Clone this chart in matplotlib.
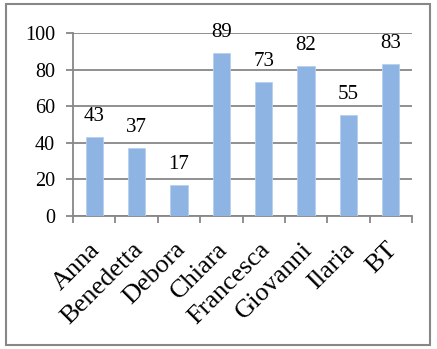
import matplotlib
matplotlib.use("Agg")
import matplotlib.pyplot as plt
import matplotlib.transforms as mtransforms
from matplotlib.patches import Rectangle

names = ["Anna", "Benedetta", "Debora", "Chiara", "Francesca", "Giovanni", "Ilaria", "BT"]
values = [43, 37, 17, 89, 73, 82, 55, 83]
yticks = [0, 20, 40, 60, 80, 100]

plt.rcParams['font.family'] = ['Liberation Serif', 'DejaVu Serif']

W, H = 437, 349
fig = plt.figure(figsize=(W/100, H/100), dpi=100)
ax = fig.add_axes([73/W, 1-216/H, (412-73)/W, (216-33)/H])

x = list(range(len(names)))
bars = ax.bar(x, values, width=0.41, color='#8DB4E2', edgecolor='#B8D0EE', linewidth=0.6, zorder=3)
for xi, v in zip(x, values):
    ax.annotate(str(v), (xi, v), xytext=(0, 11.5), textcoords='offset points',
                ha='center', va='baseline', fontsize=15, color='black', zorder=4)

ax.set_xlim(-0.5, len(names)-0.5)
ax.set_ylim(0, 100)
ax.set_yticks(yticks)
ax.set_yticklabels([str(t) for t in yticks], fontsize=14.5)
ax.yaxis.grid(True, color='#878787', linewidth=1.3, zorder=0)
ax.set_axisbelow(True)

ax.set_xticks(x)
ax.set_xticklabels(names, rotation=45, ha='right', rotation_mode='anchor', fontsize=19)
ax.set_xticks([i - 0.5 for i in range(len(names)+1)], minor=True)
ax.tick_params(axis='x', which='major', length=0, pad=14)
ax.tick_params(axis='x', which='minor', length=5, width=1.3, color='#878787', direction='out')
ax.tick_params(axis='y', length=5, width=1.3, color='#878787', pad=8)
shift = mtransforms.ScaledTranslation(-5/100, -3/100, fig.dpi_scale_trans)
for lbl in ax.get_xticklabels():
    lbl.set_transform(lbl.get_transform() + shift)

for s in ['top', 'right']:
    ax.spines[s].set_visible(False)
for s in ['left', 'bottom']:
    ax.spines[s].set_color('#878787')
    ax.spines[s].set_linewidth(1.3)

fig.patches.append(Rectangle((6/W, 1-345/H), (430-6)/W, (345-4)/H, transform=fig.transFigure,
                             fill=False, edgecolor='#878787', linewidth=1.5))

fig.savefig('out.png', dpi=100, facecolor='white')
